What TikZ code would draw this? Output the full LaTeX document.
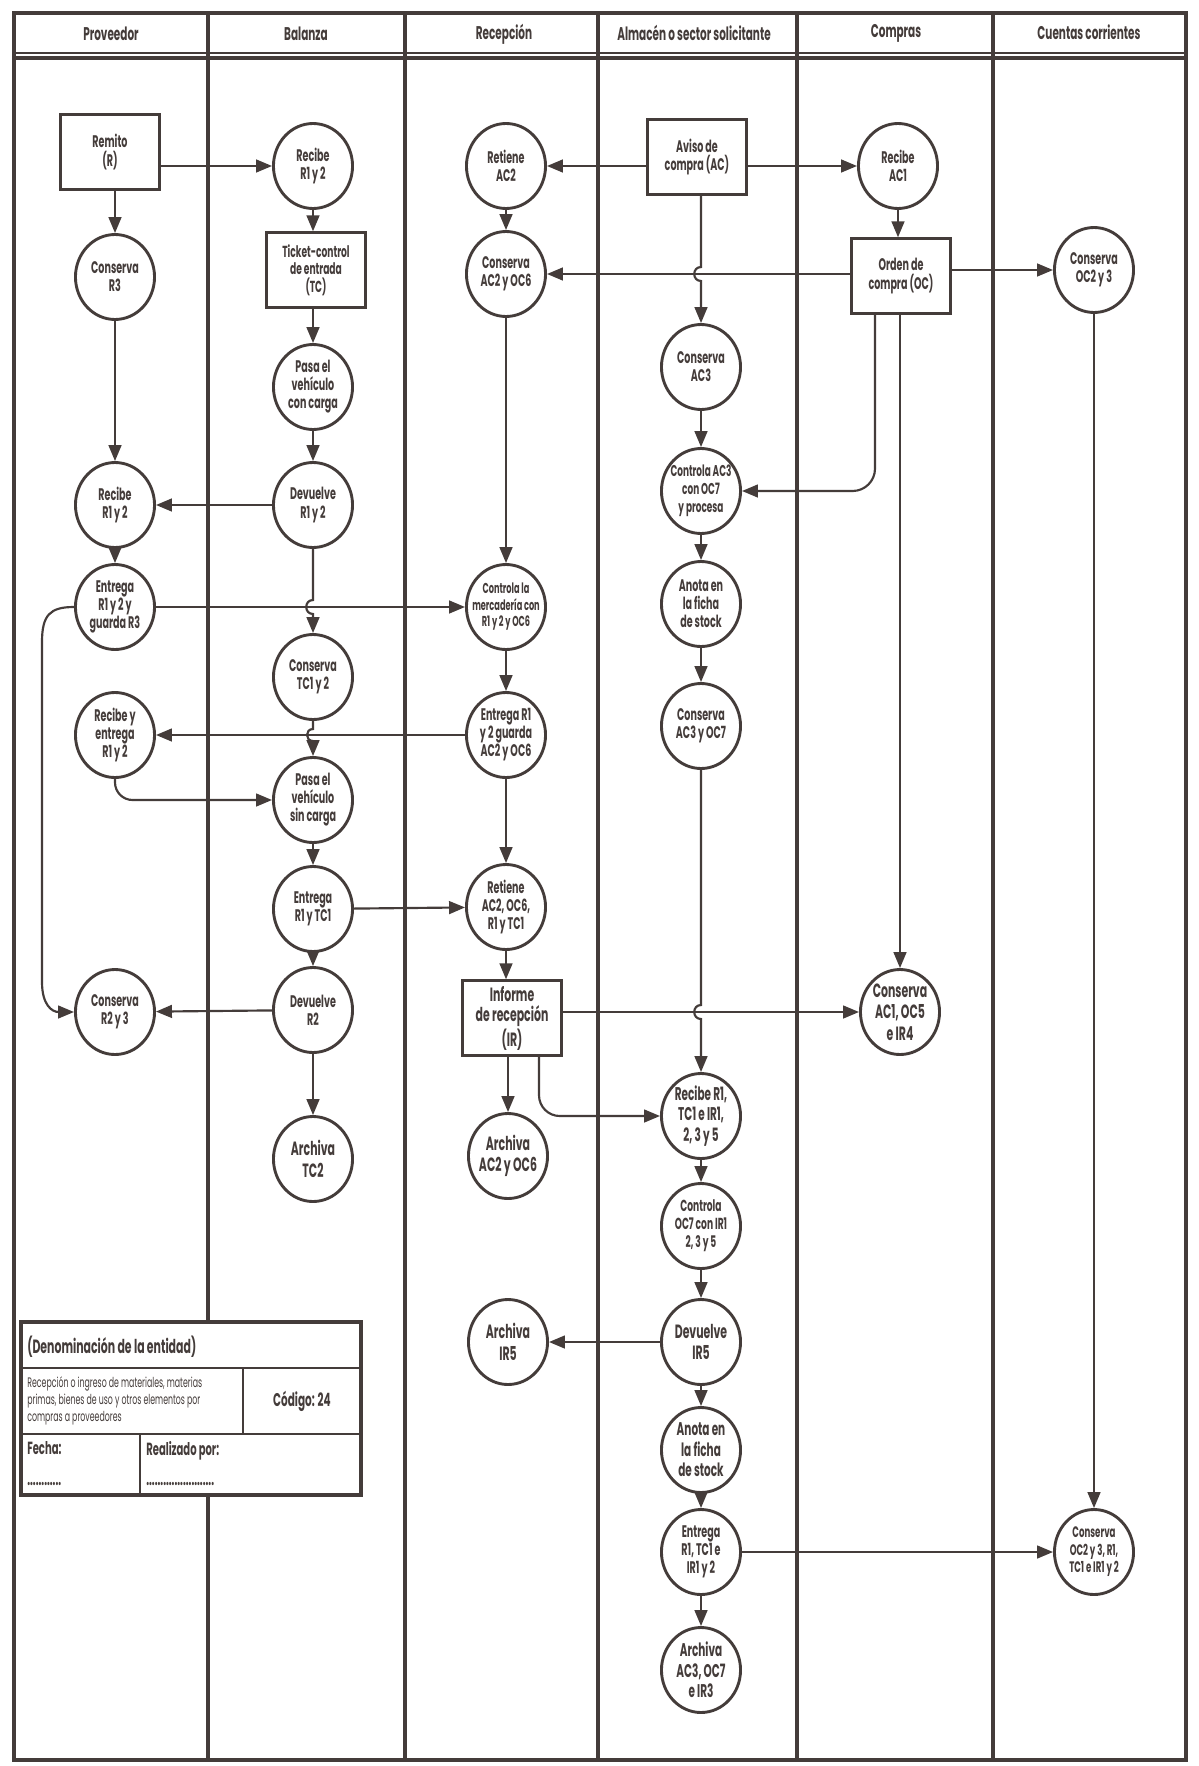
\documentclass[tikz,border=0pt]{standalone}
\usepackage{fontspec}
\setmainfont{Poppins}[FakeStretch=0.57]
\usetikzlibrary{arrows.meta,shapes.geometric}
\definecolor{ink}{RGB}{68,60,58}
\begin{document}
\begin{tikzpicture}[x=0.022cm,y=-0.022cm,
  every node/.style={text=ink},
  proc/.style={ellipse, draw=ink, line width=1.8pt, inner xsep=-9pt, inner ysep=-5pt, minimum width=1.74cm, minimum height=1.87cm, align=center, font=\bfseries\fontsize{10.5}{11.3}\selectfont},
  doc/.style={rectangle, draw=ink, line width=1.8pt, inner sep=0pt, minimum width=2.18cm, minimum height=1.64cm, align=center, font=\bfseries\fontsize{10.5}{11.6}\selectfont},
  arr/.style={draw=ink, line width=1.35pt, -{Triangle[length=10pt,width=8pt]}},
  lane/.style={draw=ink, line width=2.4pt},
  head/.style={font=\bfseries\fontsize{11.5}{12}\selectfont}
]
\fill[white] (0,0) rectangle (1198,1766);
\useasboundingbox (0,0) rectangle (1198,1766);

% frame and lanes
\draw[lane] (14,13) rectangle (1186,1760);
\draw[ink, line width=1pt] (14,53) -- (1186,53);
\draw[ink, line width=2.4pt] (14,58) -- (1186,58);
\foreach \lx in {208,405,598,797,993} {\draw[lane] (\lx,13) -- (\lx,1760);}

% headers
\node[head] (hProv) at (111,34) {Proveedor};
\node[head] (hBal) at (306,34) {Balanza};
\node[head] (hRec) at (504,34) {Recepción};
\node[head] (hAlm) at (694,33) {Almacén o sector solicitante};
\node[head] (hCom) at (896,33) {Compras};
\node[head] (hCue) at (1089,32) {Cuentas corrientes};

% Proveedor
\node[doc] (ramito) at (110,152) {Remito\\(R)};
\node[proc] (conR3) at (115,277) {Conserva\\R3};
\node[proc] (recP) at (115,505) {Recibe\\R1 y 2};
\node[proc] (entP) at (115,607) {Entrega\\R1 y 2 y\\guarda R3};
\node[proc] (recE) at (115,735) {Recibe y\\entrega\\R1 y 2};
\node[proc] (conR2) at (115,1012) {Conserva\\R2 y 3};

% Balanza
\node[proc] (recB) at (313,166) {Recibe\\R1 y 2};
\node[doc, font=\bfseries\fontsize{10}{11}\selectfont] (tc) at (316,270) {Ticket-control\\de entrada\\(TC)};
\node[proc] (pasaC) at (313,387) {Pasa el\\vehículo\\con carga};
\node[proc] (devB) at (313,505) {Devuelve\\R1 y 2};
\node[proc] (conTC) at (313,677) {Conserva\\TC1 y 2};
\node[proc] (pasaS) at (313,800) {Pasa el\\vehículo\\sin carga};
\node[proc] (entB) at (313,909) {Entrega\\R1 y TC1};
\node[proc] (devR2) at (313,1010) {Devuelve\\R2};
\node[proc, font=\bfseries\fontsize{12}{13.5}\selectfont] (arcTC) at (313,1159) {Archiva\\TC2};

% Recepcion
\node[proc] (retAC2) at (506,166) {Retiene\\AC2};
\node[proc] (conAC2) at (506,274) {Conserva\\AC2 y OC6};
\node[proc, font=\bfseries\fontsize{9}{10.3}\selectfont] (contM) at (506,607) {Controla la\\mercadería con\\R1 y 2 y OC6};
\node[proc] (entG) at (506,735) {Entrega R1\\y 2 guarda\\AC2 y OC6};
\node[proc] (retR) at (506,907) {Retiene\\AC2, OC6,\\R1 y TC1};
\node[doc, font=\bfseries\fontsize{12}{13}\selectfont] (ir) at (512,1018) {Informe\\de recepción\\(IR)};
\node[proc, font=\bfseries\fontsize{12}{13.5}\selectfont] (arcAC2) at (508,1156) {Archiva\\AC2 y OC6};
\node[proc, font=\bfseries\fontsize{12}{13.5}\selectfont] (arcIR5) at (508,1342) {Archiva\\IR5};

% Almacen
\node[doc] (aviso) at (697,157) {Aviso de\\compra (AC)};
\node[proc] (conAC3) at (701,367) {Conserva\\AC3};
\node[proc, font=\bfseries\fontsize{9.8}{11.3}\selectfont] (contAC3) at (701,491) {Controla AC3\\con OC7\\y procesa};
\node[proc] (anota1) at (701,604) {Anota en\\la ficha\\de stock};
\node[proc] (conAC3b) at (701,726) {Conserva\\AC3 y OC7};
\node[proc, font=\bfseries\fontsize{11.5}{12.8}\selectfont] (recR1) at (701,1116) {Recibe R1,\\TC1 e IR1,\\2, 3 y 5};
\node[proc, font=\bfseries\fontsize{10}{11.3}\selectfont] (contOC7) at (701,1226) {Controla\\OC7 con IR1\\2, 3 y 5};
\node[proc, font=\bfseries\fontsize{12}{13.5}\selectfont] (devIR5) at (701,1342) {Devuelve\\IR5};
\node[proc, font=\bfseries\fontsize{11.5}{12.8}\selectfont] (anota2) at (701,1450) {Anota en\\la ficha\\de stock};
\node[proc] (entR1) at (701,1552) {Entrega\\R1, TC1 e\\IR1 y 2};
\node[proc, font=\bfseries\fontsize{11.5}{12.8}\selectfont] (arcAC3) at (701,1670) {Archiva\\AC3, OC7\\e IR3};

% Compras
\node[proc] (recAC1) at (898,166) {Recibe\\AC1};
\node[doc] (oc) at (901,276) {Orden de\\compra (OC)};
\node[proc, font=\bfseries\fontsize{12}{13.5}\selectfont] (conAC1) at (900,1012) {Conserva\\AC1, OC5\\e IR4};

% Cuentas corrientes
\node[proc] (conOC2) at (1094,270) {Conserva\\OC2 y 3};
\node[proc, font=\bfseries\fontsize{9.5}{11}\selectfont] (conOC2b) at (1094,1552) {Conserva\\OC2 y 3, R1,\\TC1 e IR1 y 2};

% connectors: Proveedor
\draw[arr] (ramito.east |- recB) -- (recB);
\draw[arr] (conR3 |- ramito.south) -- (conR3);
\draw[arr] (conR3) -- (recP);
\draw[arr] (recP) -- (entP);
\draw[arr] (entP) -- (contM);
\draw[arr] (entP.west) .. controls (50,607) and (42,615) .. (42,642) -- (42,982) .. controls (42,1005) and (52,1012) .. (conR2.west);
\draw[arr, rounded corners=11pt] (recE.south) |- (pasaS.west);

% Balanza
\draw[arr] (recB) -- (recB |- tc.north);
\draw[arr] (tc.south -| pasaC) -- (pasaC);
\draw[arr] (pasaC) -- (devB);
\draw[arr] (devB) -- (recP);
\draw[arr] (devB) -- (313,600) .. controls (304,600) and (304,614) .. (313,614) -- (conTC);
\draw[arr] (conTC) -- (313,729) .. controls (305,729) and (305,741) .. (313,741) -- (pasaS);
\draw[arr] (pasaS) -- (entB);
\draw[arr] (entB) -- (retR);
\draw[arr] (entB) -- (devR2);
\draw[arr] (devR2) -- (conR2);
\draw[arr] (devR2) -- (arcTC);

% Recepcion
\draw[arr] (aviso.west |- retAC2) -- (retAC2);
\draw[arr] (retAC2) -- (conAC2);
\draw[arr] (oc.west |- conAC2) -- (conAC2);
\draw[arr] (conAC2) -- (contM);
\draw[arr] (contM) -- (entG);
\draw[arr] (entG) -- (recE);
\draw[arr] (entG) -- (retR);
\draw[arr] (retR) -- (retR |- ir.north);
\draw[arr] (arcAC2 |- ir.south) -- (arcAC2);
\draw[arr] (ir.east |- conAC1) -- (conAC1);
\path (ir.south) ++(27,0) coordinate (irOut);
\draw[arr, rounded corners=13pt] (irOut) |- (recR1.west);

% Almacen
\draw[arr] (aviso.east |- recAC1) -- (recAC1);
\draw[arr] (aviso.south -| conAC3) -- (701,267) .. controls (692,267) and (692,281) .. (701,281) -- (conAC3);
\draw[arr] (conAC3) -- (contAC3);
\draw[arr] (contAC3) -- (anota1);
\draw[arr] (anota1) -- (conAC3b);
\draw[arr] (conAC3b) -- (701,1005) .. controls (692,1005) and (692,1019) .. (701,1019) -- (recR1);
\draw[arr] (recR1) -- (contOC7);
\draw[arr] (contOC7) -- (devIR5);
\draw[arr] (devIR5) -- (arcIR5);
\draw[arr] (devIR5) -- (anota2);
\draw[arr] (anota2) -- (entR1);
\draw[arr] (entR1) -- (arcAC3);
\draw[arr] (entR1) -- (conOC2b);

% Compras
\draw[arr] (recAC1) -- (recAC1 |- oc.north);
\draw[arr] (oc.east |- conOC2) -- (conOC2);
\path (oc.south) ++(-26,0) coordinate (ocOut);
\draw[arr, rounded corners=14pt] (ocOut) |- (contAC3.east);
\draw[arr] (conAC1 |- oc.south) -- (conAC1);

% Cuentas corrientes
\draw[arr] (conOC2) -- (conOC2b);

% title block
\fill[white] (21,1322) rectangle (361,1495);
\draw[ink, line width=2.2pt] (21,1322) rectangle (361,1495);
\draw[ink, line width=1.8pt] (21,1368) -- (361,1368);
\draw[ink, line width=1.8pt] (21,1434) -- (361,1434);
\draw[ink, line width=1.8pt] (243,1368) -- (243,1434);
\draw[ink, line width=1.8pt] (140,1434) -- (140,1495);
\node[anchor=west, inner sep=0pt, font=\bfseries\fontsize{12}{13}\selectfont] (tDen) at (27,1347) {(Denominación de la entidad)};
\node[anchor=north west, inner sep=0pt, align=left, font=\fontsize{8.6}{10.9}\selectfont] (tDesc) at (27,1376) {Recepción o ingreso de materiales, materias\\primas, bienes de uso y otros elementos por\\compras a proveedores};
\node[font=\bfseries\fontsize{11.5}{12}\selectfont] (tCod) at (302,1401) {Código: 24};
\node[anchor=north west, inner sep=0pt, font=\bfseries\fontsize{11}{12}\selectfont] (tFecha) at (27,1441) {Fecha:};
\node[anchor=west, inner sep=0pt, font=\bfseries\fontsize{11}{12}\selectfont] (tFdots) at (27,1484) {............};
\node[anchor=north west, inner sep=0pt, font=\bfseries\fontsize{11}{12}\selectfont] (tReal) at (146,1441) {Realizado por:};
\node[anchor=west, inner sep=0pt, font=\bfseries\fontsize{11}{12}\selectfont] (tRdots) at (146,1484) {........................};
\end{tikzpicture}
\end{document}
